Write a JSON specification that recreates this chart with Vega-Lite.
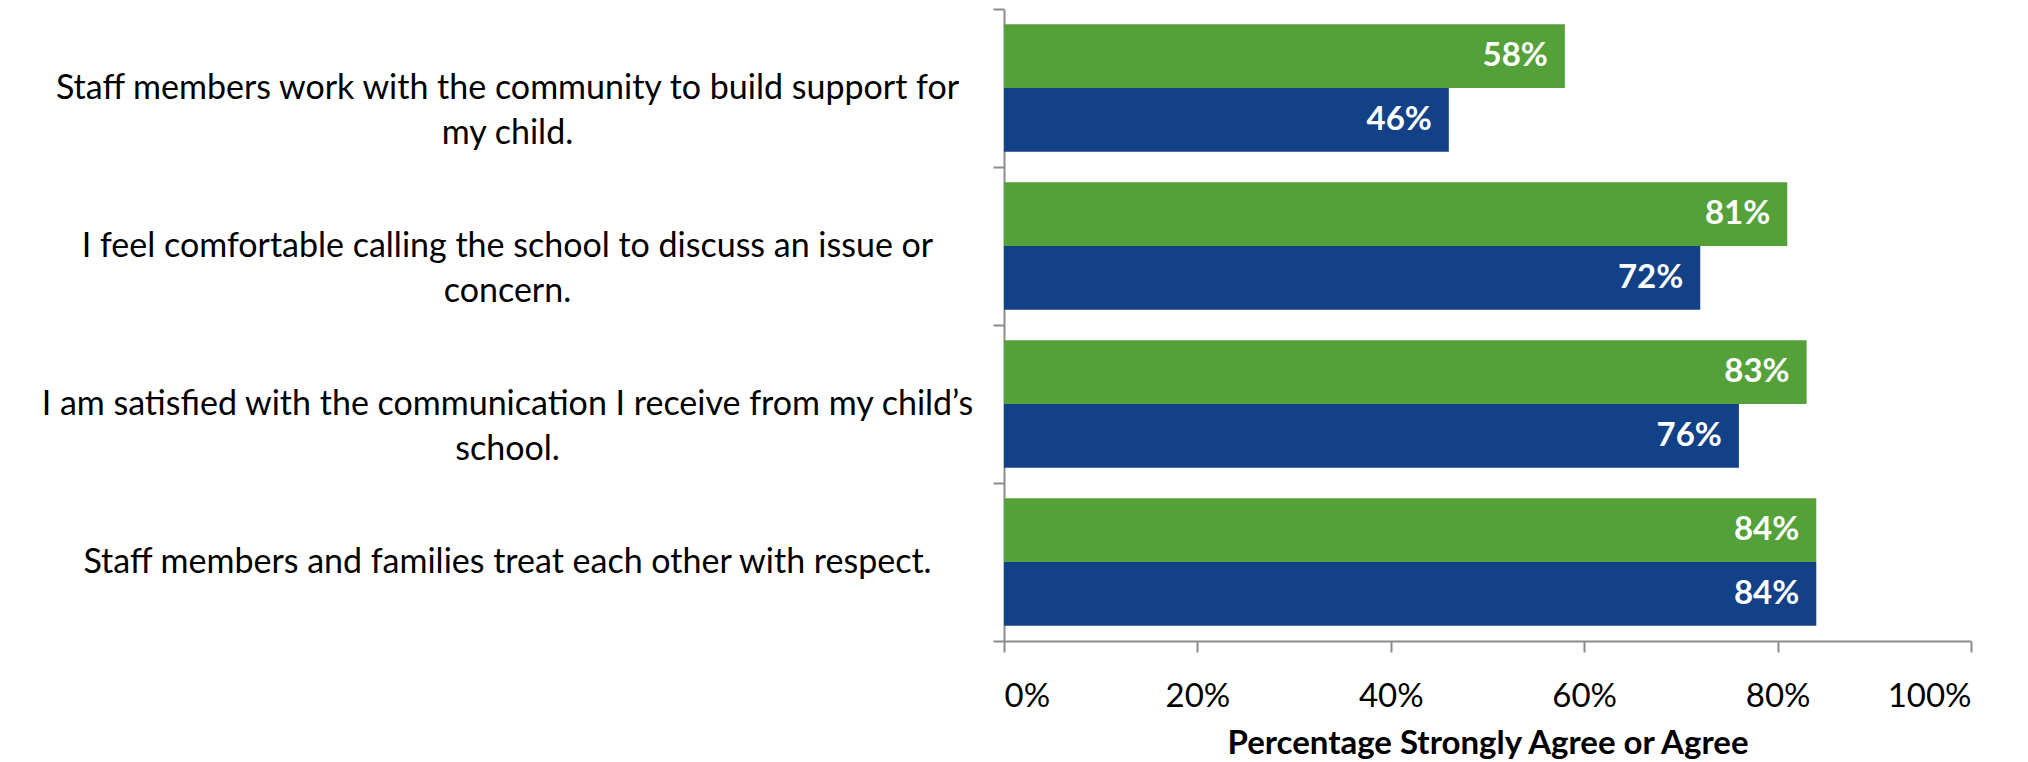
{
  "$schema": "https://vega.github.io/schema/vega-lite/v6.json",
  "width": 967,
  "height": 632,
  "autosize": {"type": "none"},
  "padding": {"left": 1004, "top": 9, "right": 57, "bottom": 121},
  "background": "white",
  "config": {"view": {"stroke": null}, "font": "Lato"},
  "data": {
    "values": [
      {"question": "Staff members work with the community to build support for|my child.", "series": "Series 1", "value": 0.58},
      {"question": "Staff members work with the community to build support for|my child.", "series": "Series 2", "value": 0.46},
      {"question": "I feel comfortable calling the school to discuss an issue or|concern.", "series": "Series 1", "value": 0.81},
      {"question": "I feel comfortable calling the school to discuss an issue or|concern.", "series": "Series 2", "value": 0.72},
      {"question": "I am satisfied with the communication I receive from my child’s|school.", "series": "Series 1", "value": 0.83},
      {"question": "I am satisfied with the communication I receive from my child’s|school.", "series": "Series 2", "value": 0.76},
      {"question": "Staff members and families treat each other with respect.", "series": "Series 1", "value": 0.84},
      {"question": "Staff members and families treat each other with respect.", "series": "Series 2", "value": 0.84}
    ]
  },
  "encoding": {
    "y": {
      "field": "question",
      "type": "nominal",
      "sort": null,
      "scale": {"paddingInner": 0, "paddingOuter": 0},
      "axis": {
        "title": null,
        "tickBand": "extent",
        "tickSize": 11,
        "tickWidth": 2,
        "tickColor": "#8c8c8c",
        "domainColor": "#8c8c8c",
        "domainWidth": 2,
        "labelExpr": "split(datum.label, '|')",
        "labelAlign": "center",
        "labelBaseline": "middle",
        "labelLineHeight": 45,
        "labelPadding": 486,
        "labelLimit": 2000,
        "labelFontSize": 34,
        "labelColor": "black",
        "labelFont": "Lato"
      }
    },
    "yOffset": {
      "field": "series",
      "type": "nominal",
      "sort": ["Series 1", "Series 2"],
      "scale": {"paddingInner": 0, "paddingOuter": 0.24}
    },
    "x": {
      "field": "value",
      "type": "quantitative",
      "scale": {"domain": [0, 1]},
      "axis": {
        "values": [0, 0.2, 0.4, 0.6, 0.8, 1],
        "format": ".0%",
        "grid": false,
        "tickSize": 11,
        "tickWidth": 2,
        "tickColor": "#8c8c8c",
        "domainColor": "#8c8c8c",
        "domainWidth": 2,
        "labelFontSize": 33,
        "labelColor": "black",
        "labelPadding": 28,
        "labelFont": "Lato",
        "title": "Percentage Strongly Agree or Agree",
        "titleFontSize": 33,
        "titleFontWeight": "bold",
        "titleColor": "black",
        "titleFont": "Lato",
        "titlePadding": 14
      }
    }
  },
  "layer": [
    {
      "mark": {"type": "bar"},
      "encoding": {
        "color": {
          "field": "series",
          "type": "nominal",
          "scale": {"domain": ["Series 1", "Series 2"], "range": ["#54a139", "#134187"]},
          "legend": null
        }
      }
    },
    {
      "mark": {"type": "text", "align": "right", "baseline": "middle", "dx": -17, "color": "white", "fontWeight": "bold", "fontSize": 33, "font": "Lato"},
      "encoding": {"text": {"field": "value", "type": "quantitative", "format": ".0%"}}
    }
  ]
}
